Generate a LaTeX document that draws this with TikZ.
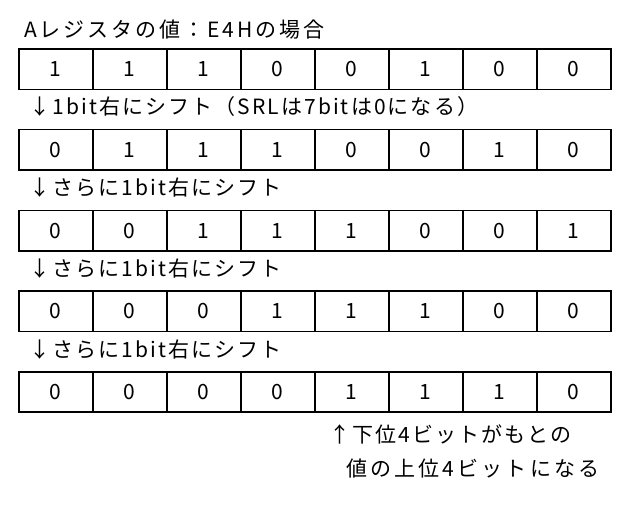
\documentclass[tikz,border=0pt]{standalone}
\usepackage{fontspec}
\setmainfont{Noto Sans CJK JP}[LetterSpace=10]
\begin{document}
\begin{tikzpicture}[x=1pt,y=-1pt,
  cell/.style={draw=black, line width=1.6pt, minimum width=74pt, minimum height=40.5pt, inner sep=0pt, font=\fontsize{21}{24}\selectfont},
  txt/.style={anchor=west, inner sep=0pt, font=\fontsize{21}{24}\selectfont}]
\useasboundingbox (0,0) rectangle (634,508);
\foreach \row/\bits [count=\r from 0] in {0/{1,1,1,0,0,1,0,0},1/{0,1,1,1,0,0,1,0},2/{0,0,1,1,1,0,0,1},3/{0,0,0,1,1,1,0,0},4/{0,0,0,0,1,1,1,0}}{
  \foreach \b [count=\i from 0] in \bits {
    \node[cell] (c\r-\i) at ({18.7+37+74*\i},{49+20.2+80.7*\r}) {\b};
  }
}
\node[txt] (title) at (24,30) {\addfontfeature{LetterSpace=14}Aレジスタの値：E4Hの場合};
\node[txt] (s1) at (29,107) {↓1bit右にシフト（SRLは7bitは0になる）};
\node[txt] (s2) at (29,188) {↓さらに1bit右にシフト};
\node[txt] (s3) at (29,269) {↓さらに1bit右にシフト};
\node[txt] (s4) at (29,350) {↓さらに1bit右にシフト};
\node[txt] (n1) at (329,434) {↑下位4ビットがもとの};
\node[txt] (n2) at (346,469) {\addfontfeature{LetterSpace=15}値の上位4ビットになる};
\end{tikzpicture}
\end{document}
